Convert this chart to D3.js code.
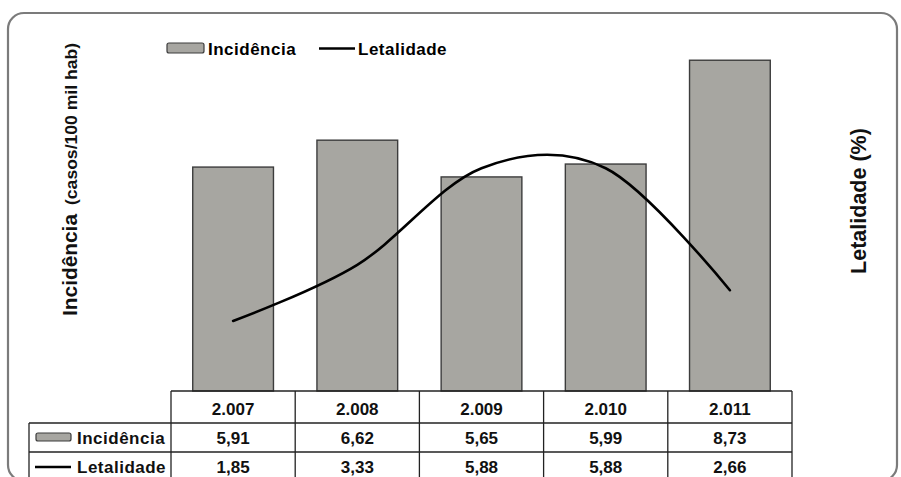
<!DOCTYPE html>
<html>
<head>
<meta charset="utf-8">
<script src="https://cdn.jsdelivr.net/npm/d3@7"></script>
<style>
  html, body { margin: 0; padding: 0; background: #fff; }
  svg { display: block; font-family: "Liberation Sans", Arial, sans-serif; }
</style>
</head>
<body>
<svg id="chart" width="901" height="477"></svg>
<script>
/********** Dados **********/
var anos = ["2.007", "2.008", "2.009", "2.010", "2.011"];
var incidencia = [5.91, 6.62, 5.65, 5.99, 8.73];
var letalidade = [1.85, 3.33, 5.88, 5.88, 2.66];
var series = ["Incidência", "Letalidade"];

var svg = d3.select("#chart");

var ptBR = d3.formatLocale({decimal: ",", thousands: ".", grouping: [3], currency: ["", ""]});
var fmt = ptBR.format(".2f");

var barFill = "#a7a6a1",
    barStroke = "#3c3c3c";

// moldura arredondada
svg.append("rect")
    .attr("x", 8).attr("y", 13)
    .attr("width", 889).attr("height", 468)
    .attr("rx", 16).attr("ry", 16)
    .attr("fill", "none")
    .attr("stroke", "#7b7b7b")
    .attr("stroke-width", 2.2);

/********** Escalas **********/
var x = d3.scaleBand()
    .domain(anos)
    .range([171, 792])
    .paddingInner(0.35)
    .paddingOuter(0.175);

var yInc = d3.scaleLinear().domain([0, 9]).range([391, 50]);
var yLet = d3.scaleLinear().domain([0, 9]).range([391, 50]);

var cx = function(a) { return x(a) + x.bandwidth() / 2; };

/********** Barras **********/
svg.append("g")
    .selectAll("rect")
    .data(anos)
    .enter().append("rect")
    .attr("x", function(d) { return x(d); })
    .attr("y", function(d, i) { return yInc(incidencia[i]); })
    .attr("width", x.bandwidth())
    .attr("height", function(d, i) { return yInc(0) - yInc(incidencia[i]); })
    .attr("fill", barFill)
    .attr("stroke", barStroke)
    .attr("stroke-width", 1.4);

/********** Linha **********/
var line = d3.line()
    .x(function(d, i) { return cx(anos[i]); })
    .y(function(d) { return yLet(d); })
    .curve(d3.curveCardinal.tension(0));

svg.append("path")
    .datum(letalidade)
    .attr("d", line)
    .attr("fill", "none")
    .attr("stroke", "#000")
    .attr("stroke-width", 2.6)
    .attr("stroke-linecap", "round");

/********** Legenda **********/
var leg = svg.append("g").attr("font-weight", "bold").attr("font-size", 17).attr("letter-spacing", 0.5);

leg.append("rect")
    .attr("x", 167).attr("y", 43).attr("width", 37).attr("height", 10)
    .attr("rx", 2).attr("fill", barFill).attr("stroke", barStroke).attr("stroke-width", 1.2);
leg.append("text").attr("x", 208).attr("y", 55).text(series[0]);

leg.append("line")
    .attr("x1", 319).attr("x2", 355).attr("y1", 48.5).attr("y2", 48.5)
    .attr("stroke", "#000").attr("stroke-width", 2.6);
leg.append("text").attr("x", 358).attr("y", 55).text(series[1]);

/********** Títulos dos eixos **********/
svg.append("text")
    .attr("transform", "translate(77,316) rotate(-90)")
    .attr("font-size", 21)
    .attr("font-weight", "bold")
    .attr("fill", "#111")
    .attr("textLength", 102)
    .attr("lengthAdjust", "spacingAndGlyphs")
    .text("Incidência");

svg.append("text")
    .attr("transform", "translate(77,205) rotate(-90)")
    .attr("font-size", 16)
    .attr("font-weight", "bold")
    .attr("fill", "#111")
    .attr("textLength", 162)
    .attr("lengthAdjust", "spacingAndGlyphs")
    .text("(casos/100 mil hab)");

svg.append("text")
    .attr("transform", "translate(866,201) rotate(-90)")
    .attr("text-anchor", "middle")
    .attr("font-size", 21.5)
    .attr("font-weight", "bold")
    .attr("fill", "#111")
    .text("Letalidade (%)");

/********** Tabela de dados **********/
var step = x.step(),
    colX = d3.range(anos.length + 1).map(function(i) { return 171 + i * step; }),
    rowY = [391, 423, 452, 481],
    labelX = 29;

var tab = svg.append("g").attr("stroke", "#222").attr("stroke-width", 1.3).attr("fill", "none");

// linhas horizontais
tab.append("line").attr("x1", colX[0]).attr("x2", colX[5]).attr("y1", rowY[0]).attr("y2", rowY[0]);
[1, 2, 3].forEach(function(r) {
    tab.append("line").attr("x1", labelX).attr("x2", colX[5]).attr("y1", rowY[r]).attr("y2", rowY[r]);
});
// linhas verticais
tab.append("line").attr("x1", labelX).attr("x2", labelX).attr("y1", rowY[1]).attr("y2", rowY[3]);
colX.forEach(function(cxx) {
    tab.append("line").attr("x1", cxx).attr("x2", cxx).attr("y1", rowY[0]).attr("y2", rowY[3]);
});

var tt = svg.append("g").attr("font-size", 17).attr("font-weight", "bold").attr("fill", "#111").attr("text-anchor", "middle");

tt.selectAll(".ano")
    .data(anos)
    .enter().append("text")
    .attr("x", function(d) { return cx(d); })
    .attr("y", 415)
    .text(function(d) { return d; });

tt.selectAll(".inc")
    .data(incidencia)
    .enter().append("text")
    .attr("x", function(d, i) { return cx(anos[i]); })
    .attr("y", 444)
    .text(function(d) { return fmt(d); });

tt.selectAll(".let")
    .data(letalidade)
    .enter().append("text")
    .attr("x", function(d, i) { return cx(anos[i]); })
    .attr("y", 473)
    .text(function(d) { return fmt(d); });

// rótulos das linhas da tabela
var rl = svg.append("g").attr("font-size", 17).attr("font-weight", "bold").attr("fill", "#111").attr("letter-spacing", 0.5);
rl.append("rect")
    .attr("x", 36).attr("y", 433).attr("width", 35).attr("height", 8)
    .attr("rx", 2).attr("fill", barFill).attr("stroke", barStroke).attr("stroke-width", 1.2);
rl.append("text").attr("x", 77).attr("y", 444).text(series[0]);
rl.append("line")
    .attr("x1", 35).attr("x2", 71).attr("y1", 467).attr("y2", 467)
    .attr("stroke", "#000").attr("stroke-width", 2.6);
rl.append("text").attr("x", 77).attr("y", 473).text(series[1]);
</script>
</body>
</html>
